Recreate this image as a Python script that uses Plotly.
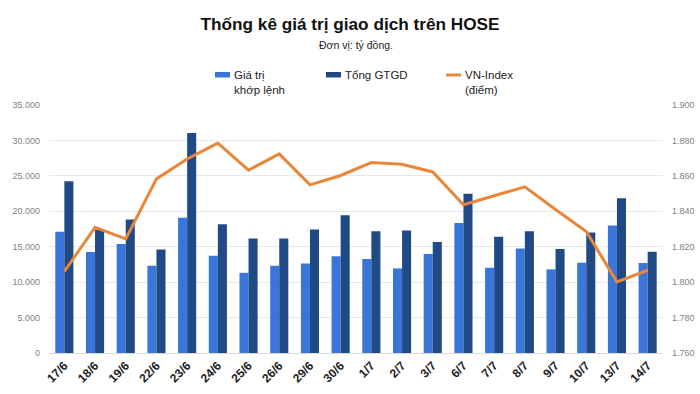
import plotly.graph_objects as go

categories = ["17/6", "18/6", "19/6", "22/6", "23/6", "24/6", "25/6", "26/6", "29/6", "30/6",
              "1/7", "2/7", "3/7", "6/7", "7/7", "8/7", "9/7", "10/7", "13/7", "14/7"]
khop_lenh = [17100, 14240, 15370, 12310, 19080, 13720, 11320, 12310, 12640, 13670,
             13250, 11940, 13960, 18330, 12030, 14760, 11800, 12730, 18000, 12690]
tong_gtgd = [24250, 17430, 18850, 14610, 31060, 18180, 16170, 16170, 17430, 19450,
             17200, 17290, 15650, 22460, 16400, 17200, 14660, 17010, 21850, 14280]
vn_index = [1806.0, 1830.9, 1824.4, 1858.3, 1869.5, 1878.5, 1863.2, 1872.4, 1854.9, 1860.2,
            1867.5, 1866.5, 1862.2, 1843.7, 1848.8, 1853.8, 1841.0, 1828.6, 1800.2, 1806.7]
series_names = ["Giá trị<br>khớp lệnh", "Tổng GTGD", "VN-Index<br>(điểm)"]

LIGHT = "#3A76D8"
DARK = "#1F4A85"
ORANGE = "#E8873A"
FONT = "Liberation Sans, Arial, sans-serif"

W, H = 700, 394
ML, MR, MT, MB = 49, 37, 105, 41
PW = W - ML - MR
PH = H - MT - MB


def px_(pix):
    return (pix - ML) / PW


def py(pix):
    return (H - MB - pix) / PH


fig = go.Figure()
fig.add_trace(go.Bar(x=categories, y=khop_lenh, name=series_names[0], showlegend=False,
                     marker=dict(color=LIGHT, line=dict(width=0))))
fig.add_trace(go.Bar(x=categories, y=tong_gtgd, name=series_names[1], showlegend=False,
                     marker=dict(color=DARK, line=dict(width=0))))
fig.add_trace(go.Scatter(x=categories, y=vn_index, name=series_names[2], yaxis="y2",
                         showlegend=False, mode="lines", line=dict(color=ORANGE, width=3)))

fig.update_layout(
    width=W, height=H,
    margin=dict(l=ML, r=MR, t=MT, b=MB, autoexpand=False),
    paper_bgcolor="white", plot_bgcolor="white",
    separators=",.",
    barmode="group", bargap=0.41, bargroupgap=0,
    font=dict(family=FONT, color="#222"),
    showlegend=False,
    xaxis=dict(type="category", tickangle=-45, showgrid=False, ticks="",
               tickfont=dict(size=12, color="#222", family=FONT, weight="bold"),
               showline=True, linecolor="#D9D9D9", linewidth=1),
    yaxis=dict(range=[0, 35000], dtick=5000, tickformat=",d", separatethousands=True,
               showgrid=True, gridcolor="#E9E9E9", gridwidth=1, zeroline=False,
               tickfont=dict(size=9, color="#7F7F7F", family=FONT), ticks="",
               ticklabelstandoff=8),
    yaxis2=dict(range=[1760, 1900], dtick=20, tickformat=",d", separatethousands=True,
                overlaying="y", side="right", showgrid=False, zeroline=False,
                tickfont=dict(size=9, color="#7F7F7F", family=FONT), ticks="",
                ticklabelstandoff=8),
    title=dict(text="<b>Thống kê giá trị giao dịch trên HOSE</b>",
               x=0.5, xanchor="center", y=1 - 24 / H, yanchor="middle",
               xref="container", yref="container",
               font=dict(size=17.2, color="#111", family=FONT)),
)
fig.add_annotation(text="Đơn vị: tỷ đồng.", x=0.5, y=py(45), xref="paper", yref="paper",
                   xanchor="center", yanchor="middle", showarrow=False,
                   font=dict(size=10.5, color="#222", family=FONT))

# manual legend (symbol + label per series)
legend_x = [215, 326, 446]
colors = [LIGHT, DARK, ORANGE]
for i, (lx, name, col) in enumerate(zip(legend_x, series_names, colors)):
    if i < 2:
        fig.add_shape(type="rect", xref="paper", yref="paper",
                      x0=px_(lx), x1=px_(lx + 15), y0=py(77.5), y1=py(72),
                      fillcolor=col, line=dict(width=0))
    else:
        fig.add_shape(type="line", xref="paper", yref="paper",
                      x0=px_(lx), x1=px_(lx + 15), y0=py(75), y1=py(75),
                      line=dict(color=col, width=3))
    fig.add_annotation(text=name, x=px_(lx + 17), y=py(67), xref="paper", yref="paper",
                       xanchor="left", yanchor="top", align="left", showarrow=False,
                       font=dict(size=11.5, color="#222", family=FONT))

fig.write_html("out.html")
